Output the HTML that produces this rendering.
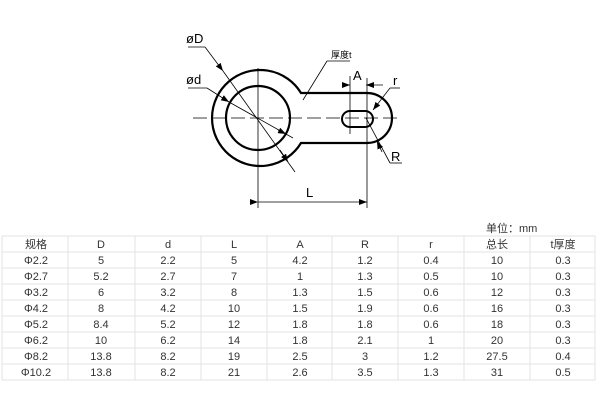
<!DOCTYPE html>
<html><head><meta charset="utf-8"><style>
body{margin:0;background:#fff;width:600px;height:400px;overflow:hidden;font-family:"Liberation Sans","Noto Sans CJK SC",sans-serif;}
svg{position:absolute;left:0;top:0}
</style></head><body>
<svg width="600" height="400" viewBox="0 0 600 400">
<defs><marker id="a" markerWidth="8" markerHeight="6" refX="8" refY="3" orient="auto" markerUnits="userSpaceOnUse"><path d="M0,0 L8,3 L0,6z" fill="#000"/></marker></defs>
<g stroke="#000" fill="none">
<path d="M301,93 L367,93 A25,25 0 0 1 367,143 L301,143 A48,48 0 1 1 301,93 Z" stroke-width="2.2"/>
<circle cx="258" cy="118" r="32" stroke-width="2.2"/>
<rect x="342" y="111" width="31" height="16" rx="8" stroke-width="2"/>
<line x1="193" y1="118" x2="397" y2="118" stroke-width="0.8" stroke-dasharray="14,5"/>
<line x1="258" y1="68" x2="258" y2="208" stroke-width="0.8"/>
<line x1="367" y1="78" x2="367" y2="208" stroke-width="0.8"/>
<line x1="258" y1="202" x2="367" y2="202" stroke-width="0.8" marker-start="url(#a)" marker-end="url(#a)"/>
<line x1="350" y1="76" x2="350" y2="134" stroke-width="0.8"/>
<line x1="342" y1="85" x2="350" y2="85" stroke-width="0.8" marker-end="url(#a)"/>
<line x1="383" y1="85" x2="366" y2="85" stroke-width="0.8" marker-end="url(#a)"/>
<line x1="188" y1="47" x2="205" y2="47" stroke-width="0.8"/>
<line x1="205" y1="47" x2="223" y2="71" stroke-width="0.8" marker-end="url(#a)"/>
<line x1="223" y1="71" x2="295" y2="172" stroke-width="0.8"/>
<line x1="280" y1="150" x2="288" y2="162" stroke-width="0.8" marker-end="url(#a)"/>
<line x1="188" y1="88" x2="207" y2="88" stroke-width="0.8"/>
<line x1="207" y1="88" x2="229" y2="102" stroke-width="0.8" marker-end="url(#a)"/>
<line x1="229" y1="102" x2="293" y2="138" stroke-width="0.8"/>
<line x1="278" y1="130" x2="286" y2="134" stroke-width="0.8" marker-end="url(#a)"/>
<line x1="327" y1="61" x2="350" y2="61" stroke-width="0.8"/>
<line x1="327" y1="61" x2="303" y2="100" stroke-width="0.8"/>
<line x1="390" y1="88" x2="400" y2="88" stroke-width="0.8"/>
<line x1="390" y1="88" x2="373" y2="110" stroke-width="0.8" marker-end="url(#a)"/>
<line x1="366" y1="118" x2="390" y2="163" stroke-width="0.8"/>
<line x1="390" y1="163" x2="402" y2="163" stroke-width="0.8"/>
<line x1="382" y1="152" x2="377" y2="141" stroke-width="0.8" marker-end="url(#a)"/>
</g>
<g font-family="Liberation Sans, sans-serif" fill="#000">
<text x="186" y="43" font-size="13">øD</text>
<text x="186" y="84" font-size="13">ød</text>
<text x="331" y="58" font-size="9" font-family="Liberation Sans, Noto Sans CJK SC, sans-serif">厚度t</text>
<text x="353" y="80" font-size="13">A</text>
<text x="393" y="85" font-size="13">r</text>
<text x="391" y="161" font-size="13">R</text>
<text x="306" y="197" font-size="13">L</text>
</g>
<g stroke="#e3e3e3" stroke-width="1">
<line x1="2" y1="236" x2="595" y2="236"/><line x1="2" y1="252" x2="595" y2="252"/>
<line x1="2" y1="268" x2="595" y2="268"/><line x1="2" y1="284" x2="595" y2="284"/>
<line x1="2" y1="300" x2="595" y2="300"/><line x1="2" y1="316" x2="595" y2="316"/>
<line x1="2" y1="332" x2="595" y2="332"/><line x1="2" y1="348" x2="595" y2="348"/>
<line x1="2" y1="364" x2="595" y2="364"/><line x1="2" y1="380" x2="595" y2="380"/>
<line x1="2" y1="236" x2="2" y2="380"/><line x1="68" y1="236" x2="68" y2="380"/>
<line x1="135" y1="236" x2="135" y2="380"/><line x1="201" y1="236" x2="201" y2="380"/>
<line x1="267" y1="236" x2="267" y2="380"/><line x1="332" y1="236" x2="332" y2="380"/>
<line x1="398" y1="236" x2="398" y2="380"/><line x1="464" y1="236" x2="464" y2="380"/>
<line x1="530" y1="236" x2="530" y2="380"/><line x1="595" y1="236" x2="595" y2="380"/>
</g>
<g font-size="11" fill="#333" text-anchor="middle" font-family="Liberation Sans, Noto Sans CJK SC, sans-serif">
<text x="486" y="232" text-anchor="start">单位：mm</text>
<text x="36" y="248">规格</text><text x="101" y="248">D</text><text x="168" y="248">d</text><text x="234" y="248">L</text><text x="300" y="248">A</text><text x="365" y="248">R</text><text x="431" y="248">r</text><text x="497" y="248">总长</text><text x="563" y="248">t厚度</text>
<text x="36" y="264">Φ2.2</text><text x="101" y="264">5</text><text x="168" y="264">2.2</text><text x="234" y="264">5</text><text x="300" y="264">4.2</text><text x="365" y="264">1.2</text><text x="431" y="264">0.4</text><text x="497" y="264">10</text><text x="563" y="264">0.3</text>
<text x="36" y="280">Φ2.7</text><text x="101" y="280">5.2</text><text x="168" y="280">2.7</text><text x="234" y="280">7</text><text x="300" y="280">1</text><text x="365" y="280">1.3</text><text x="431" y="280">0.5</text><text x="497" y="280">10</text><text x="563" y="280">0.3</text>
<text x="36" y="296">Φ3.2</text><text x="101" y="296">6</text><text x="168" y="296">3.2</text><text x="234" y="296">8</text><text x="300" y="296">1.3</text><text x="365" y="296">1.5</text><text x="431" y="296">0.6</text><text x="497" y="296">12</text><text x="563" y="296">0.3</text>
<text x="36" y="312">Φ4.2</text><text x="101" y="312">8</text><text x="168" y="312">4.2</text><text x="234" y="312">10</text><text x="300" y="312">1.5</text><text x="365" y="312">1.9</text><text x="431" y="312">0.6</text><text x="497" y="312">16</text><text x="563" y="312">0.3</text>
<text x="36" y="328">Φ5.2</text><text x="101" y="328">8.4</text><text x="168" y="328">5.2</text><text x="234" y="328">12</text><text x="300" y="328">1.8</text><text x="365" y="328">1.8</text><text x="431" y="328">0.6</text><text x="497" y="328">18</text><text x="563" y="328">0.3</text>
<text x="36" y="344">Φ6.2</text><text x="101" y="344">10</text><text x="168" y="344">6.2</text><text x="234" y="344">14</text><text x="300" y="344">1.8</text><text x="365" y="344">2.1</text><text x="431" y="344">1</text><text x="497" y="344">20</text><text x="563" y="344">0.3</text>
<text x="36" y="360">Φ8.2</text><text x="101" y="360">13.8</text><text x="168" y="360">8.2</text><text x="234" y="360">19</text><text x="300" y="360">2.5</text><text x="365" y="360">3</text><text x="431" y="360">1.2</text><text x="497" y="360">27.5</text><text x="563" y="360">0.4</text>
<text x="36" y="376">Φ10.2</text><text x="101" y="376">13.8</text><text x="168" y="376">8.2</text><text x="234" y="376">21</text><text x="300" y="376">2.6</text><text x="365" y="376">3.5</text><text x="431" y="376">1.3</text><text x="497" y="376">31</text><text x="563" y="376">0.5</text>
</g>
</svg>
</body></html>
